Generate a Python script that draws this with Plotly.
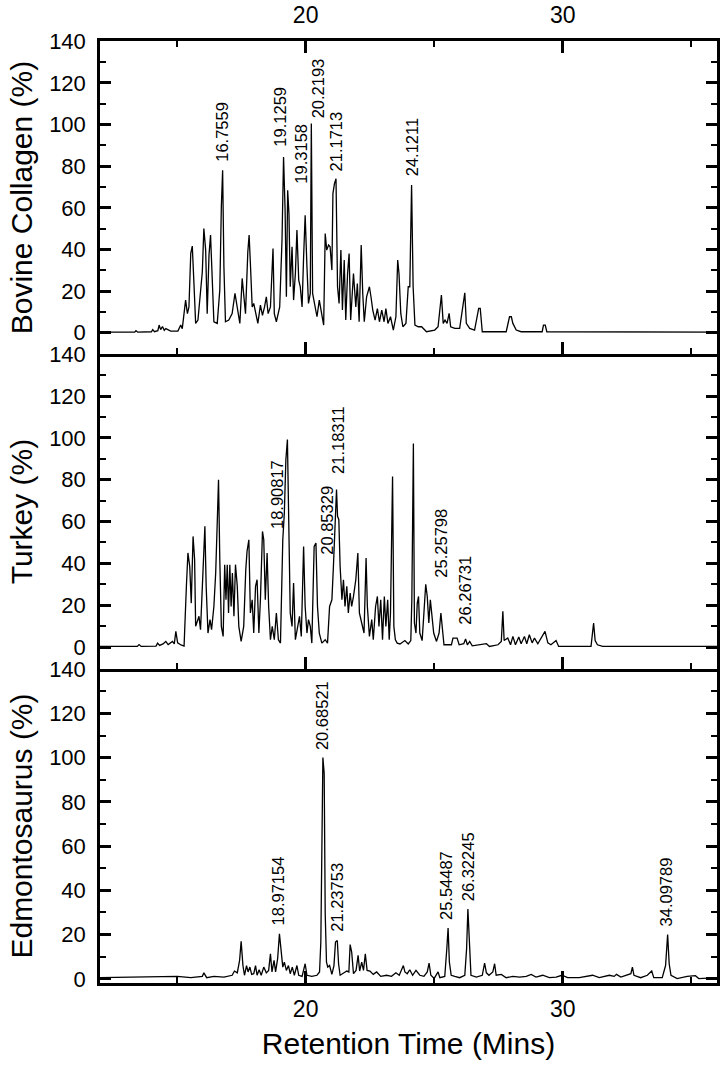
import plotly.graph_objects as go

# ---------------- data ----------------
# Bovine Collagen chromatogram: retention time (min), relative intensity (%)
bc_t = [12.0, 13.35, 13.40, 13.47, 14.0, 14.05, 14.12, 14.25, 14.30, 14.36, 14.43, 14.5, 14.56, 14.75, 15.03, 15.14, 15.2,
        15.27, 15.33, 15.40, 15.46, 15.53, 15.59, 15.66, 15.72, 15.81, 15.91, 15.98, 16.04, 16.11, 16.17, 16.24, 16.30,
        16.37, 16.43, 16.56, 16.66, 16.72, 16.77, 16.82, 16.88, 17.01, 17.14, 17.25, 17.34, 17.44, 17.53, 17.59, 17.66,
        17.75, 17.80, 17.85, 17.92, 17.98, 18.05, 18.14, 18.24, 18.32, 18.40, 18.47, 18.54, 18.63, 18.73, 18.78, 18.86,
        18.99, 19.08, 19.14, 19.20, 19.25, 19.30, 19.35, 19.40, 19.47, 19.53, 19.60, 19.66, 19.73, 19.79, 19.86, 19.92,
        19.98, 20.05, 20.11, 20.18, 20.22, 20.27, 20.37, 20.44, 20.53, 20.63, 20.70, 20.76, 20.82, 20.89, 20.95, 21.02,
        21.06, 21.12, 21.18, 21.24, 21.30, 21.37, 21.43, 21.50, 21.56, 21.63, 21.69, 21.75, 21.86, 21.95, 22.01, 22.08,
        22.16, 22.22, 22.28, 22.37, 22.48, 22.54, 22.61, 22.70, 22.79, 22.87, 22.96, 23.05, 23.12, 23.20, 23.30, 23.41,
        23.51, 23.58, 23.63, 23.70, 23.78, 23.90, 23.99, 24.05, 24.12, 24.18, 24.25, 24.38, 24.51, 24.70, 25.02, 25.15,
        25.22, 25.28, 25.35, 25.42, 25.50, 25.58, 25.64, 25.80, 25.99, 26.12, 26.19, 26.25, 26.38, 26.57, 26.73, 26.79,
        26.87, 27.80, 27.93, 28.00, 28.06, 28.19, 28.38, 29.20, 29.25, 29.32, 29.38, 36.0]
bc_y = [0.3, 0.3, 1.0, 0.3, 0.5, 1.5, 0.5, 1.0, 3.7, 1.5, 3.0, 1.2, 2.0, 0.8, 0.8, 3.7, 2.0,
        10.9, 15.7, 9.2, 12.4, 38.1, 41.6, 22.1, 4.5, 6.1, 18.9, 29.3, 50.1, 39.7, 9.2, 37.3, 46.9,
        20.5, 5.3, 4.5, 20.5, 60.4, 78.0, 31.7, 5.3, 6.1, 9.2, 18.9, 10.9, 4.5, 26.1, 17.3, 9.2,
        38.9, 46.9, 33.3, 12.4, 14.1, 9.2, 4.5, 13.3, 8.4, 12.4, 17.3, 9.2, 12.4, 40.5, 9.2, 5.3,
        12.4, 44.5, 84.4, 58.8, 17.3, 68.4, 57.2, 22.1, 41.3, 15.7, 28.5, 49.3, 25.3, 22.1, 12.4, 36.5,
        56.4, 31.7, 14.1, 18.9, 100.5, 18.9, 12.4, 7.7, 15.7, 9.2, 3.7, 47.7, 39.7, 42.1, 41.3, 30.1,
        66.8, 71.6, 74.0, 22.1, 14.1, 39.7, 10.9, 34.9, 6.1, 28.5, 38.1, 6.1, 28.5, 12.4, 23.7, 5.3,
        42.1, 18.9, 5.3, 17.3, 22.1, 17.3, 10.9, 6.1, 11.6, 5.3, 10.9, 5.3, 11.6, 4.5, 7.7, 1.3,
        7.7, 34.9, 28.5, 9.3, 2.9, 4.5, 22.1, 22.1, 70.9, 22.1, 3.7, 2.9, 2.9, 0.5, 1.3, 2.9,
        12.5, 18.1, 4.5, 6.1, 4.5, 9.3, 2.9, 2.1, 2.1, 14.1, 19.2, 4.5, 2.1, 1.3, 11.7, 11.7,
        0.5, 0.5, 7.7, 7.7, 4.5, 1.3, 0.5, 0.5, 3.7, 3.7, 0.5, 0.3]

# Turkey chromatogram
tk_t = [12.0, 13.45, 13.52, 13.6, 14.18, 14.24, 14.32, 14.45, 14.56, 14.65, 14.82, 14.89, 14.95, 15.02, 15.15, 15.27,
        15.36, 15.42, 15.49, 15.55, 15.62, 15.68, 15.72, 15.79, 15.85, 15.91, 15.98, 16.04, 16.08, 16.13, 16.20, 16.28,
        16.34, 16.43, 16.50, 16.56, 16.61, 16.66, 16.72, 16.79, 16.85, 16.90, 16.95, 17.00, 17.05, 17.10, 17.15, 17.21,
        17.27, 17.34, 17.40, 17.49, 17.59, 17.67, 17.72, 17.79, 17.85, 17.92, 17.98, 18.05, 18.11, 18.18, 18.24, 18.32,
        18.37, 18.43, 18.50, 18.56, 18.63, 18.70, 18.78, 18.86, 18.94, 19.02, 19.11, 19.17, 19.23, 19.29, 19.34, 19.40,
        19.47, 19.53, 19.60, 19.69, 19.76, 19.83, 19.92, 19.98, 20.05, 20.11, 20.18, 20.24, 20.33, 20.40, 20.46, 20.53,
        20.63, 20.76, 20.85, 20.93, 21.02, 21.08, 21.15, 21.20, 21.24, 21.29, 21.34, 21.41, 21.47, 21.53, 21.60, 21.66,
        21.73, 21.79, 21.86, 21.95, 22.03, 22.09, 22.18, 22.27, 22.35, 22.40, 22.48, 22.57, 22.63, 22.72, 22.79, 22.85,
        22.92, 22.99, 23.06, 23.12, 23.19, 23.25, 23.30, 23.38, 23.43, 23.49, 23.56, 23.67, 23.86, 23.99, 24.09, 24.13,
        24.16, 24.19, 24.23, 24.29, 24.34, 24.39, 24.44, 24.53, 24.60, 24.67, 24.73, 24.79, 24.85, 24.92, 24.98, 25.09,
        25.19, 25.26, 25.32, 25.38, 25.67, 25.73, 25.89, 25.97, 26.15, 26.22, 26.29, 26.38, 26.48, 27.03, 27.15, 27.48,
        27.61, 27.67, 27.72, 27.86, 27.97, 28.06, 28.16, 28.29, 28.38, 28.51, 28.60, 28.70, 28.81, 28.90, 29.03, 29.16,
        29.31, 29.42, 29.54, 29.74, 29.84, 31.10, 31.16, 31.20, 31.26, 31.35, 31.55, 36.0]
tk_y = [0.3, 0.3, 1.2, 0.3, 0.5, 1.9, 0.8, 1.5, 2.7, 1.2, 2.7, 1.5, 7.5, 2.0, 1.0, 0.5,
        29.0, 45.0, 38.6, 21.0, 52.9, 41.8, 9.9, 13.1, 14.7, 8.3, 29.0, 46.6, 57.7, 29.0, 6.7, 13.1,
        8.3, 19.4, 35.4, 59.3, 80.0, 41.8, 9.9, 5.1, 39.4, 22.6, 39.4, 16.3, 39.4, 19.4, 35.4, 14.7,
        39.4, 29.0, 9.9, 2.7, 9.9, 37.0, 45.8, 51.3, 16.3, 22.6, 6.7, 29.0, 32.2, 6.7, 22.6, 55.3,
        51.3, 22.6, 45.0, 19.4, 3.5, 9.9, 3.5, 16.3, 3.5, 1.9, 51.3, 64.1, 89.6, 99.2, 59.3, 16.3,
        9.9, 30.6, 3.5, 9.9, 14.7, 5.1, 48.1, 19.4, 6.7, 13.1, 9.9, 1.9, 48.1, 49.7, 19.4, 6.7,
        1.9, 3.5, 1.9, 19.4, 22.6, 38.6, 57.7, 75.3, 62.5, 60.9, 38.6, 22.6, 32.2, 19.4, 29.0, 16.3,
        25.8, 19.4, 24.2, 32.2, 45.0, 16.3, 11.5, 6.7, 42.6, 19.4, 5.1, 13.1, 3.5, 19.4, 24.2, 9.9,
        22.6, 3.5, 24.2, 9.9, 22.6, 3.5, 16.3, 81.6, 9.9, 3.5, 1.9, 1.5, 3.1, 1.5, 3.1, 22.6,
        59.3, 97.3, 11.5, 6.7, 20.9, 24.2, 6.7, 3.1, 16.3, 30.0, 24.2, 11.5, 22.6, 14.7, 6.7, 2.7,
        6.7, 16.3, 6.7, 1.1, 1.1, 4.3, 4.3, 1.1, 1.6, 3.9, 1.1, 2.7, 0.6, 1.6, 0.3, 1.1,
        2.7, 17.1, 3.1, 4.3, 1.1, 5.1, 1.1, 4.8, 1.6, 5.1, 1.6, 5.9, 2.0, 4.3, 1.6, 4.3,
        7.5, 2.0, 1.1, 3.1, 0.3, 0.3, 6.7, 11.5, 3.1, 1.1, 0.3, 0.3]

# Edmontosaurus chromatogram
ed_t = [12.0, 14.62, 15.01, 15.53, 15.98, 16.04, 16.15, 16.43, 16.82, 17.14, 17.23, 17.34, 17.43, 17.49, 17.56, 17.62,
        17.70, 17.76, 17.83, 17.90, 17.98, 18.05, 18.11, 18.19, 18.27, 18.37, 18.47, 18.56, 18.63, 18.69, 18.77, 18.83,
        18.91, 18.98, 19.04, 19.11, 19.17, 19.25, 19.33, 19.40, 19.48, 19.56, 19.66, 19.73, 19.86, 19.98, 20.05, 20.24,
        20.44, 20.54, 20.59, 20.64, 20.67, 20.72, 20.76, 20.81, 20.86, 20.93, 21.02, 21.10, 21.16, 21.23, 21.28, 21.34,
        21.47, 21.60, 21.68, 21.73, 21.79, 21.86, 21.96, 22.04, 22.10, 22.18, 22.25, 22.32, 22.39, 22.50, 22.63, 22.76,
        22.92, 23.15, 23.34, 23.51, 23.64, 23.80, 23.86, 23.95, 24.05, 24.16, 24.29, 24.38, 24.44, 24.60, 24.73, 24.80,
        24.87, 25.00, 25.09, 25.15, 25.22, 25.41, 25.49, 25.54, 25.59, 25.66, 25.80, 25.99, 26.19, 26.26, 26.31, 26.37,
        26.43, 26.64, 26.87, 26.96, 27.03, 27.13, 27.28, 27.35, 27.41, 27.61, 27.80, 28.06, 28.32, 28.58, 28.77, 28.96,
        29.22, 29.48, 29.74, 29.97, 30.19, 30.64, 31.16, 31.42, 31.81, 32.00, 32.09, 32.26, 32.48, 32.65, 32.71, 32.77,
        33.03, 33.29, 33.46, 33.54, 33.87, 34.00, 34.08, 34.14, 34.21, 34.45, 34.84, 35.16, 35.29, 35.81, 36.0]
ed_y = [0.5, 0.8, 1.1, 0.5, 1.1, 2.7, 0.5, 1.1, 0.8, 1.6, 3.5, 2.7, 8.3, 17.0, 6.0, 1.6,
        6.0, 3.1, 5.3, 2.0, 2.3, 6.0, 1.6, 4.1, 1.6, 5.3, 2.7, 3.8, 11.3, 3.1, 8.3, 3.1,
        9.1, 20.3, 12.1, 5.3, 7.5, 3.8, 6.0, 2.3, 5.3, 1.6, 6.0, 1.6, 1.1, 6.8, 1.6, 1.1,
        1.6, 3.1, 16.6, 73.2, 100.1, 92.8, 29.4, 7.5, 5.3, 6.0, 2.0, 6.0, 16.6, 17.3, 6.8, 1.6,
        2.7, 3.5, 3.1, 15.5, 12.1, 2.3, 3.8, 10.6, 3.5, 7.5, 3.8, 11.3, 3.8, 3.5, 2.0, 3.1,
        1.1, 1.6, 1.1, 2.7, 1.6, 6.0, 3.1, 2.3, 4.1, 1.6, 3.8, 2.3, 1.6, 1.1, 3.1, 7.1,
        1.6, 0.2, 1.6, 3.1, 0.5, 1.1, 13.6, 23.0, 7.5, 1.6, 1.1, 0.5, 1.6, 13.6, 31.6, 15.1,
        1.6, 0.8, 1.6, 7.1, 2.7, 1.6, 3.1, 6.8, 1.6, 2.0, 0.5, 1.1, 0.8, 1.1, 2.0, 0.8,
        1.6, 0.5, 0.8, 1.6, 0.5, 0.5, 1.6, 0.5, 1.6, 1.1, 2.0, 0.8, 1.6, 2.3, 5.3, 1.6,
        0.5, 1.6, 3.5, 0.5, 0.5, 6.0, 20.0, 6.8, 1.6, 0.1, 1.1, 1.4, 0.1, 0.5, 0.5]

# Peak labels: text, label position (time, intensity at label foot)
bc_labels = ["16.7559", "19.1259", "19.3158", "20.2193", "21.1713", "24.1211"]
bc_label_t = [16.75, 19.0, 19.83, 20.48, 21.18, 24.12]
bc_label_y = [81.2, 88.4, 70.8, 102.0, 76.5, 74.0]

tk_labels = ["18.90817", "20.85329", "21.18311", "25.25798", "26.26731"]
tk_label_t = [18.89, 20.82, 21.28, 25.28, 26.19]
tk_label_y = [55.3, 43.3, 81.6, 32.2, 9.9]

ed_labels = ["18.97154", "20.68521", "21.23753", "25.54487", "26.32245", "34.09789"]
ed_label_t = [18.92, 20.66, 21.21, 25.48, 26.32, 34.03]
ed_label_y = [23.4, 102.6, 20.5, 25.7, 34.0, 22.7]

panel_titles = ["Bovine Collagen (%)", "Turkey (%)", "Edmontosaurus (%)"]
x_title = "Retention Time (Mins)"
x_range = [12, 36]
x_major = [20, 30]
x_minor = [15, 25, 35]
y_major = [0, 20, 40, 60, 80, 100, 120, 140]
y_minor = [10, 30, 50, 70, 90, 110, 130]

# ---------------- figure ----------------
FONT = "Liberation Sans, Arial, sans-serif"
fig = go.Figure()

series = [(bc_t, bc_y, "x", "y"), (tk_t, tk_y, "x2", "y2"), (ed_t, ed_y, "x3", "y3")]
for t, v, xa, ya in series:
    fig.add_trace(go.Scatter(x=t, y=v, mode="lines", xaxis=xa, yaxis=ya,
                             line=dict(color="black", width=1.3), showlegend=False,
                             hoverinfo="skip"))

label_sets = [(bc_labels, bc_label_t, bc_label_y, "x", "y"),
              (tk_labels, tk_label_t, tk_label_y, "x2", "y2"),
              (ed_labels, ed_label_t, ed_label_y, "x3", "y3")]
for labels, lt, ly, xa, ya in label_sets:
    for txt, t, v in zip(labels, lt, ly):
        fig.add_annotation(x=t, y=v, xref=xa, yref=ya, text=txt, showarrow=False,
                           textangle=-90, xanchor="center", yanchor="bottom",
                           font=dict(family=FONT, size=16.5, color="black"))

LW = 2.5
common_x = dict(range=x_range, tickmode="array", tickvals=x_major, ticks="inside",
                ticklen=12, tickwidth=2.5, tickcolor="black", showline=True,
                linewidth=LW, linecolor="black", showgrid=False, zeroline=False,
                minor=dict(tickmode="array", tickvals=x_minor, ticks="inside", ticklen=6,
                           tickwidth=2, tickcolor="black", showgrid=False),
                tickfont=dict(family=FONT, size=23, color="black"), automargin=False)

common_y = dict(tickmode="array", tickvals=y_major, ticks="inside", ticklen=11,
                tickwidth=2.5, tickcolor="black", showline=True, linewidth=LW,
                linecolor="black", mirror="ticks", showgrid=False, zeroline=False,
                minor=dict(tickmode="array", tickvals=y_minor, ticks="inside", ticklen=6,
                           tickwidth=2, tickcolor="black", showgrid=False),
                tickfont=dict(family=FONT, size=22, color="black"), automargin=False,
                ticklabelstandoff=7)

ytitle_font = dict(family=FONT, size=30, color="black")

fig.update_layout(
    width=720, height=1073,
    margin=dict(l=100, r=3, t=41, b=90),
    paper_bgcolor="white", plot_bgcolor="white",
    xaxis=dict(common_x, anchor="y", side="top", mirror="ticks", ticklabelstandoff=6),
    xaxis2=dict(common_x, anchor="y2", side="bottom", mirror=False, showticklabels=False,
                matches="x"),
    xaxis3=dict(common_x, anchor="y3", side="bottom", mirror=False, matches="x",
                ticklabelstandoff=4,
                title=dict(text=x_title, font=dict(family=FONT, size=30, color="black"),
                           standoff=12)),
    yaxis=dict(common_y, domain=[0.6677, 1.0], range=[-10.2, 140.1], anchor="x",
               title=dict(text=panel_titles[0], font=ytitle_font, standoff=8)),
    yaxis2=dict(common_y, domain=[0.3333, 0.6677], range=[-10.5, 140.1], anchor="x2",
                title=dict(text=panel_titles[1], font=ytitle_font, standoff=8)),
    yaxis3=dict(common_y, domain=[0.0, 0.3333], range=[-1.9, 140.1], anchor="x3",
                title=dict(text=panel_titles[2], font=ytitle_font, standoff=8)),
)

fig.write_html("out.html")
